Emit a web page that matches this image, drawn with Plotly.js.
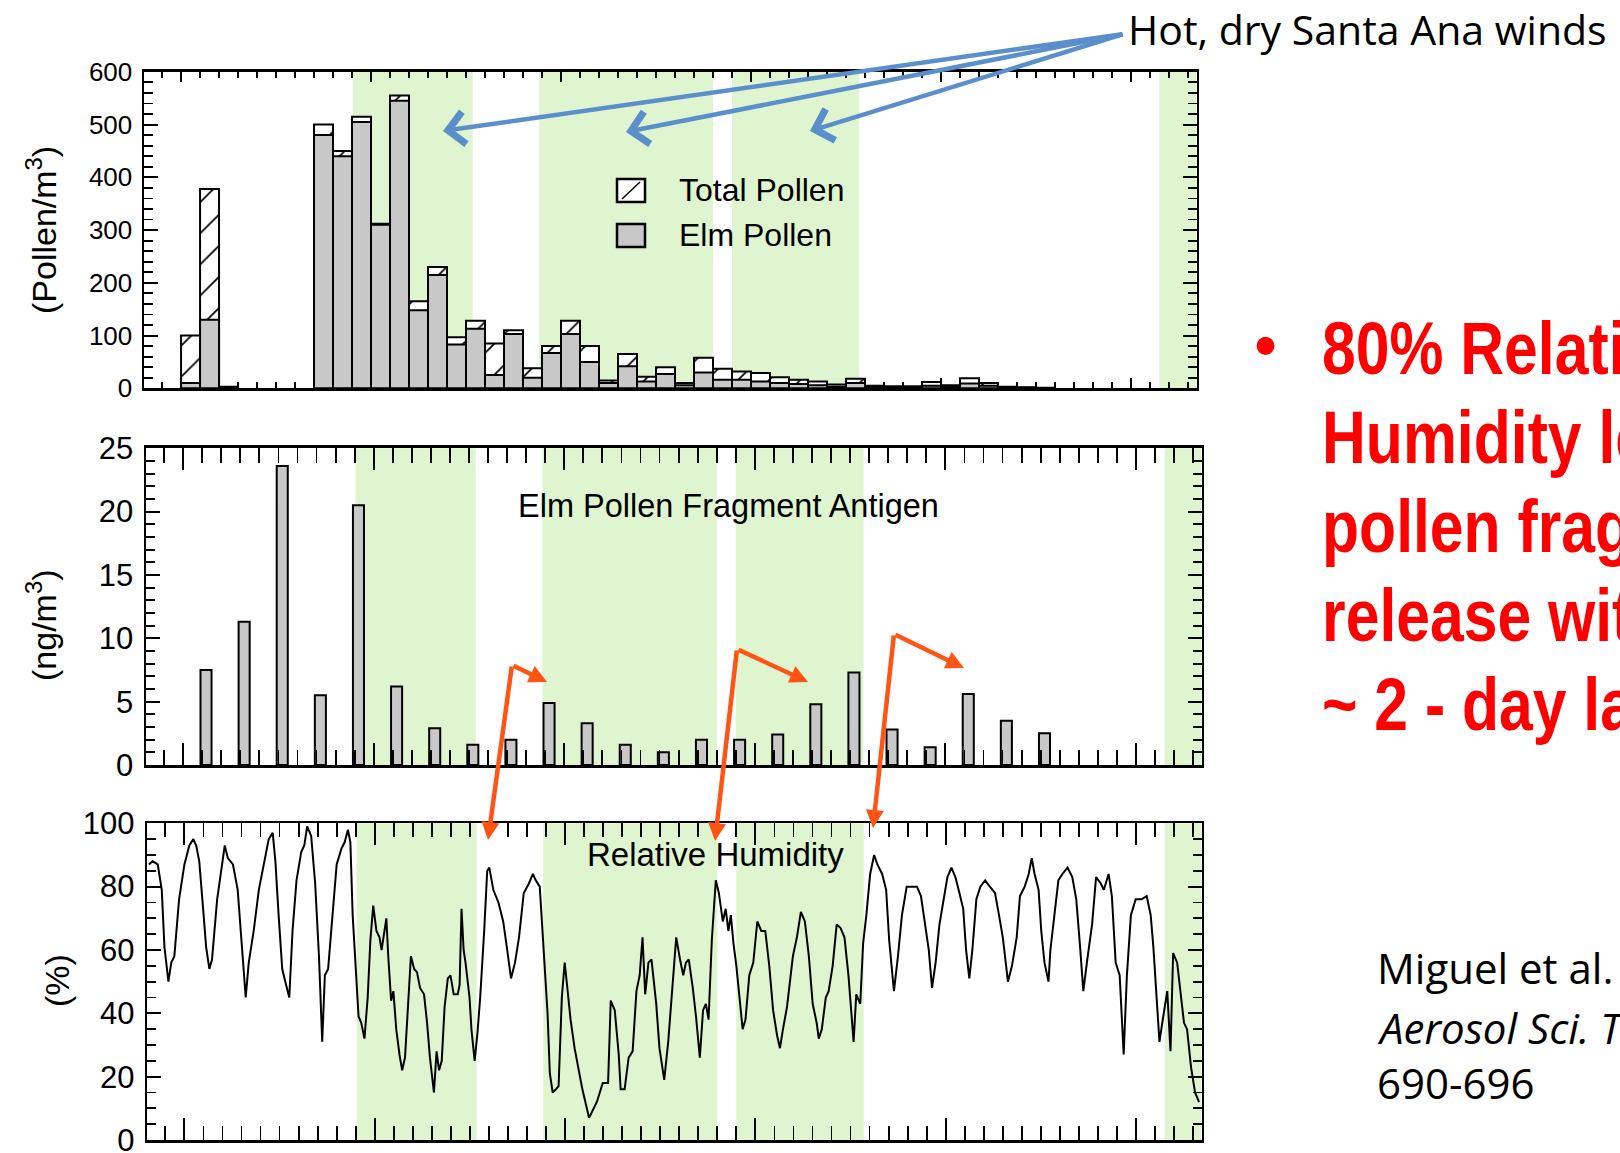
<!DOCTYPE html>
<html>
<head>
<meta charset="utf-8">
<script src="https://cdn.plot.ly/plotly-3.0.1.min.js"></script>
<style>html,body{margin:0;padding:0;background:#fff;}#chart{width:1620px;height:1153px;}</style>
</head>
<body>
<div id="chart"></div>
<script>
// ---------------- DATA ----------------
// Daily pollen counts (day index from start of record)
const pollenDays  = [0,1,2,7,8,9,10,11,12,13,14,15,16,17,18,19,20,21,22,23,24,25,26,27,28,29,30,31,32,33,34,35,36,37,38,39,40,41,42,43,44,45];
const totalPollen = [100,378,3,500,450,515,312,555,165,230,97,128,85,110,38,80,128,80,15,65,22,40,10,58,37,32,29,21,16,13,7,18,5,4,4,12,6,19,10,3,2,1];
const elmPollen   = [10,130,2,480,440,505,310,545,148,215,83,113,25,103,20,67,103,50,10,42,13,27,6,30,16,16,13,10,8,6,3,10,3,2,2,5,3,9,5,1,1,0];

// Elm pollen fragment antigen (ng/m3), 2-day samples
const antigenDays = [1.2,3.2,5.2,7.2,9.2,11.2,13.2,15.2,17.2,19.2,21.2,23.2,25.2,27.2,29.2,31.2,33.2,35.2,37.2,39.2,41.2,43.2,45.2];
const antigenVals = [7.5,11.3,23.6,5.5,20.5,6.2,2.9,1.6,2.0,4.9,3.3,1.6,1.0,2.0,2.0,2.4,4.8,7.3,2.8,1.4,5.6,3.5,2.5];

// Relative humidity (%)
const rhDay = [-1.87,-1.67,-1.40,-1.19,-1.05,-0.84,-0.69,-0.53,-0.28,0,
0.26,0.47,0.62,0.78,0.97,1.14,1.31,1.45,1.72,1.97,
2.12,2.28,2.55,2.80,3.01,3.22,3.38,3.64,3.91,4.16,
4.43,4.64,4.78,4.95,5.14,5.34,5.51,5.68,5.89,6.14,
6.30,6.45,6.66,6.87,7.07,7.24,7.38,7.55,7.80,8.00,
8.25,8.42,8.59,8.72,8.84,9.01,9.15,9.29,9.46,9.63,
9.77,9.92,10.09,10.25,10.36,10.46,10.61,10.71,10.86,10.98,
11.13,11.30,11.44,11.59,11.76,11.90,12.07,12.22,12.38,12.59,
12.75,12.90,13.11,13.25,13.38,13.52,13.67,13.84,13.98,14.15,
14.36,14.46,14.56,14.67,14.77,14.98,15.08,15.25,15.40,15.54,
15.75,15.91,16.02,16.23,16.50,16.75,16.96,17.16,17.37,17.58,
17.83,18.10,18.31,18.46,18.67,18.83,19.08,19.20,19.35,19.52,
19.66,19.83,19.98,20.12,20.29,20.50,20.70,20.91,
21.26,21.67,21.98,22.26,22.40,22.61,22.82,22.92,23.13,23.34,
23.55,23.75,23.92,24.07,24.21,24.38,24.54,24.79,24.96,25.11,
25.21,25.42,25.63,25.84,26.04,26.21,26.35,26.50,26.71,26.88,
27.08,27.25,27.40,27.54,27.71,27.92,28.08,28.29,28.44,28.58,
28.71,28.85,29.00,29.17,29.33,29.48,29.68,29.89,30.10,30.31,
30.52,30.73,30.93,31.14,31.29,31.45,31.66,31.97,32.18,32.39,
32.60,32.81,33.01,33.22,33.33,33.49,33.70,33.85,34.06,34.27,
34.47,34.68,34.89,35.16,35.30,35.51,35.66,35.83,36.03,36.24,
36.41,36.66,36.87,37.03,37.28,37.49,37.70,37.95,38.22,38.49,
38.70,38.95,39.11,39.28,39.47,39.67,39.88,40.09,40.30,40.51,
40.72,40.92,41.07,41.24,41.40,41.61,41.82,42.07,42.32,42.59,
42.80,43.00,43.27,43.48,43.73,43.90,44.15,44.36,44.52,44.67,
44.88,45.02,45.19,45.40,45.50,45.71,45.92,46.13,46.40,46.65,
46.86,47.06,47.23,47.44,47.69,47.90,48.15,48.31,48.56,48.73,
48.93,49.14,49.35,49.52,49.73,49.98,50.29,50.56,50.77,50.91,
51.23,51.43,51.64,51.81,51.95,52.16,52.37,52.52,52.68,52.89,
53.10,53.31];
const rhVal = [87,88,87,79,61,50,56,58,76,87,
93,95,93,88,74,61,54,57,76,86,
93,89,87,79,61,45,56,66,79,87,
95,97,88,71,54,49,45,66,82,91,
93,99,96,81,58,31,52,54,74,87,
92,94,98,94,71,52,39,37,32,45,
63,74,66,64,60,64,70,58,44,47,
35,27,22,26,45,58,54,53,48,46,
37,26,15,28,22,25,42,51,52,46,
46,49,73,60,56,45,35,25,34,45,
66,85,86,79,75,69,60,51,56,64,
78,81,84,82,80,63,40,21,15,16,
17,45,56,48,38,29,23,16,
7,12,18,18,44,41,27,16,16,26,
28,47,52,64,46,56,57,43,29,23,
19,31,47,64,57,52,56,57,48,39,
26,41,43,38,63,82,78,69,73,66,
71,62,55,45,35,38,52,56,69,66,
66,55,41,33,29,35,42,58,64,72,
69,58,43,37,32,35,45,47,55,68,
67,64,52,31,46,43,62,71,84,90,
87,84,79,63,47,58,71,80,80,80,
77,66,60,48,56,68,76,83,86,83,
78,73,60,51,60,76,80,82,80,78,
71,64,50,55,64,77,80,84,89,84,
79,66,56,50,60,71,82,84,86,83,
76,61,47,57,68,83,81,79,84,77,
56,52,27,52,71,76,76,77,71,61,
31,39,47,28,59,56,45,37,35,23,
15,12];

// Santa Ana wind periods (day)
const santaAnaStart = [9.05, 18.85, 29.0, 51.5];
const santaAnaEnd   = [15.35, 28.0, 35.7, 53.45];

// Text
const legendLabels = ['Total Pollen', 'Elm Pollen'];
const panelLabels = ['Elm Pollen Fragment Antigen', 'Relative Humidity'];
const yTitles = ['(Pollen/m<sup>3</sup>)', '(ng/m<sup>3</sup>)', '(%)'];
const windLabel = 'Hot, dry Santa Ana winds';
const bulletLines = ['80% Relative', 'Humidity leads to', 'pollen fragment', 'release with a', '~ 2 - day lag'];
const citationLines = ['Miguel et al. 2006', '<i>Aerosol Sci. Technol.</i> 40:', '690-696'];

// ---------------- LAYOUT HELPERS ----------------
const W = 1620, H = 1153;
const px = x => x / W;
const py = y => 1 - y / H;
const XR = [-1.95, 53.45];
const GREEN = 'rgb(223,245,207)';
const GRAY = '#c8c8c8';
const FONT = 'Liberation Sans, Arial, Helvetica, sans-serif';

const traces = [
  {type:'bar', x:pollenDays, y:totalPollen, width:1, offset:0, xaxis:'x', yaxis:'y',
   marker:{color:'white', line:{color:'black', width:2},
           pattern:{shape:'/', fgcolor:'black', bgcolor:'white', size:22, solidity:0.08}},
   name:legendLabels[0], showlegend:false, hoverinfo:'skip'},
  {type:'bar', x:pollenDays, y:elmPollen, width:1, offset:0, xaxis:'x', yaxis:'y',
   marker:{color:GRAY, line:{color:'black', width:2}},
   name:legendLabels[1], showlegend:false, hoverinfo:'skip'},
  {type:'bar', x:antigenDays, y:antigenVals, width:0.58, xaxis:'x2', yaxis:'y2',
   marker:{color:GRAY, line:{color:'black', width:2}}, showlegend:false, hoverinfo:'skip'},
  {type:'scatter', mode:'lines', x:rhDay, y:rhVal, xaxis:'x3', yaxis:'y3',
   line:{color:'black', width:2}, showlegend:false, hoverinfo:'skip'}
];

function xax(domain, anchor, len, mlen, ticks, lw) {
  return {domain:domain, range:XR, anchor:anchor, showline:true, linecolor:'black', linewidth:lw || 2.5,
    mirror:'allticks', ticks:ticks, ticklen:len, tickwidth:2, tickcolor:'black',
    tick0:0, dtick:10, showticklabels:false, showgrid:false, zeroline:false,
    minor:{dtick:1, tick0:0, ticks:ticks, ticklen:mlen, tickwidth:1.8, tickcolor:'black', showgrid:false}};
}
function yax(domain, anchor, range, dtick, mdtick, fs) {
  return {domain:domain, range:range, anchor:anchor, showline:true, linecolor:'black', linewidth:2.5,
    mirror:'allticks', ticks:'inside', ticklen:14, tickwidth:2, tickcolor:'black',
    tick0:0, dtick:dtick, showgrid:false, zeroline:false, ticklabelstandoff:4, ticklabeloverflow:'allow',
    tickfont:{family:FONT, size:fs, color:'black'},
    minor:{dtick:mdtick, tick0:0, ticks:'inside', ticklen:9, tickwidth:1.8, tickcolor:'black', showgrid:false}};
}

const xTop = [px(144), px(1196.5)];
const xMid = [px(146), px(1201.7)];
const xBot = [px(147.3), px(1201.7)];

const layout = {
  width:W, height:H, margin:{l:0, r:0, t:0, b:0},
  paper_bgcolor:'white', plot_bgcolor:'white',
  font:{family:FONT, color:'black'},
  barmode:'overlay', showlegend:false,
  xaxis: xax(xTop, 'y', 10, 6, 'inside'),
  xaxis4: Object.assign(xax(xTop, 'y', 10, 6, 'outside'), {overlaying:'x', showline:false}),
  yaxis: yax([py(388.3), py(71.8)], 'x', [0, 600], 100, 20, 26),
  xaxis2: xax(xMid, 'y2', 22, 15, 'inside', 3),
  yaxis2: yax([py(765), py(448.3)], 'x2', [0, 25], 5, 1, 31),
  xaxis3: xax(xBot, 'y3', 22, 14, 'inside'),
  yaxis3: yax([py(1140), py(823.3)], 'x3', [0, 100], 20, 5, 31),
  shapes: [], annotations: []
};

// Santa Ana shading in each panel
[['x','y'],['x2','y2'],['x3','y3']].forEach(([xa, ya]) => {
  santaAnaStart.forEach((s, i) => {
    layout.shapes.push({type:'rect', xref:xa, yref:ya + ' domain', x0:s, x1:santaAnaEnd[i], y0:0, y1:1,
      fillcolor:GREEN, line:{width:0}, layer:'below'});
  });
});

// Legend swatches (top panel)
layout.shapes.push({type:'rect', xref:'paper', yref:'paper', x0:px(617), x1:px(645), y0:py(202), y1:py(179),
  fillcolor:'white', line:{color:'black', width:2.5}});
layout.shapes.push({type:'line', xref:'paper', yref:'paper', x0:px(622), x1:px(640), y0:py(199), y1:py(182),
  line:{color:'black', width:1.5}});
layout.shapes.push({type:'rect', xref:'paper', yref:'paper', x0:px(617), x1:px(645), y0:py(247), y1:py(224),
  fillcolor:GRAY, line:{color:'black', width:2.5}});

function txt(text, x, y, size, opts) {
  return Object.assign({xref:'paper', yref:'paper', x:px(x), y:py(y), text:text, showarrow:false,
    xanchor:'left', yanchor:'middle', font:{family:FONT, size:size, color:'black'}}, opts || {});
}
const A = layout.annotations;
A.push(txt(legendLabels[0], 677, 190, 32));
A.push(txt(legendLabels[1], 677, 235, 32));
A.push(txt(panelLabels[0], 728, 506, 32.5, {xanchor:'center'}));
A.push(txt(panelLabels[1], 715, 854, 33, {xanchor:'center'}));
A.push(txt(yTitles[0], 41, 230, 34, {xanchor:'center', textangle:-90}));
A.push(txt(yTitles[1], 41, 625, 34, {xanchor:'center', textangle:-90}));
A.push(txt(yTitles[2], 57, 981, 34, {xanchor:'center', textangle:-90}));

// Santa Ana label + blue arrows
A.push(txt(windLabel, 1126, 29, 41, {font:{family:'Open Sans, sans-serif', size:41, color:'black'}}));
const BLUE = '#5b8fcb';
[[443,131],[626,132],[810,131]].forEach(([hx, hy]) => {
  A.push({xref:'paper', yref:'paper', x:px(hx), y:py(hy), text:'', showarrow:true,
    ax:1124 - hx, ay:34 - hy, arrowcolor:BLUE, arrowwidth:4.5, arrowhead:4, arrowsize:1.4, standoff:0, startstandoff:0});
});

// Orange lag arrows
const ORANGE = '#ff5414';
[[[512,665],[488,840],[547,682]], [[737,649],[715,841],[808,682]], [[894,634],[873,828],[964,668]]].forEach(([b, d, r]) => {
  [d, r].forEach(h => {
    A.push({xref:'paper', yref:'paper', x:px(h[0]), y:py(h[1]), text:'', showarrow:true,
      ax:b[0] - h[0], ay:b[1] - h[1], arrowcolor:ORANGE, arrowwidth:4.5, arrowhead:2, arrowsize:0.8, standoff:0, startstandoff:0});
  });
});

// Red bullet text (clipped at the right edge, narrow bold face)
A.push(txt('•', 1265, 345, 66, {xanchor:'center', font:{family:FONT, size:66, color:'#ff0000'}}));
const redStart = A.length;
bulletLines.forEach((l, i) => {
  A.push(txt('<b>' + l + '</b>', 1320, 348 + i * 89, 74, {font:{family:FONT, size:74, color:'#ff0000'}}));
});
const redEnd = A.length;

// Citation
citationLines.forEach((l, i) => {
  A.push(txt(l, 1375, [968, 1027, 1082][i], 42, {font:{family:'Open Sans, sans-serif', size:42, color:'black'}}));
});

Plotly.newPlot('chart', traces, layout, {displayModeBar:false, staticPlot:true}).then(gd => {
  // Narrow the bold red text horizontally (like Arial Narrow Bold), anchored at its left edge
  for (let i = redStart; i < redEnd; i++) {
    const g = gd.querySelector('g.annotation[data-index="' + i + '"] text.annotation-text');
    if (!g) continue;
    const bb = g.getBBox();
    const x0 = bb.x;
    g.setAttribute('transform', 'translate(' + x0 + ',0) scale(0.82,1) translate(' + (-x0) + ',0)');
  }
});
</script>
</body>
</html>
